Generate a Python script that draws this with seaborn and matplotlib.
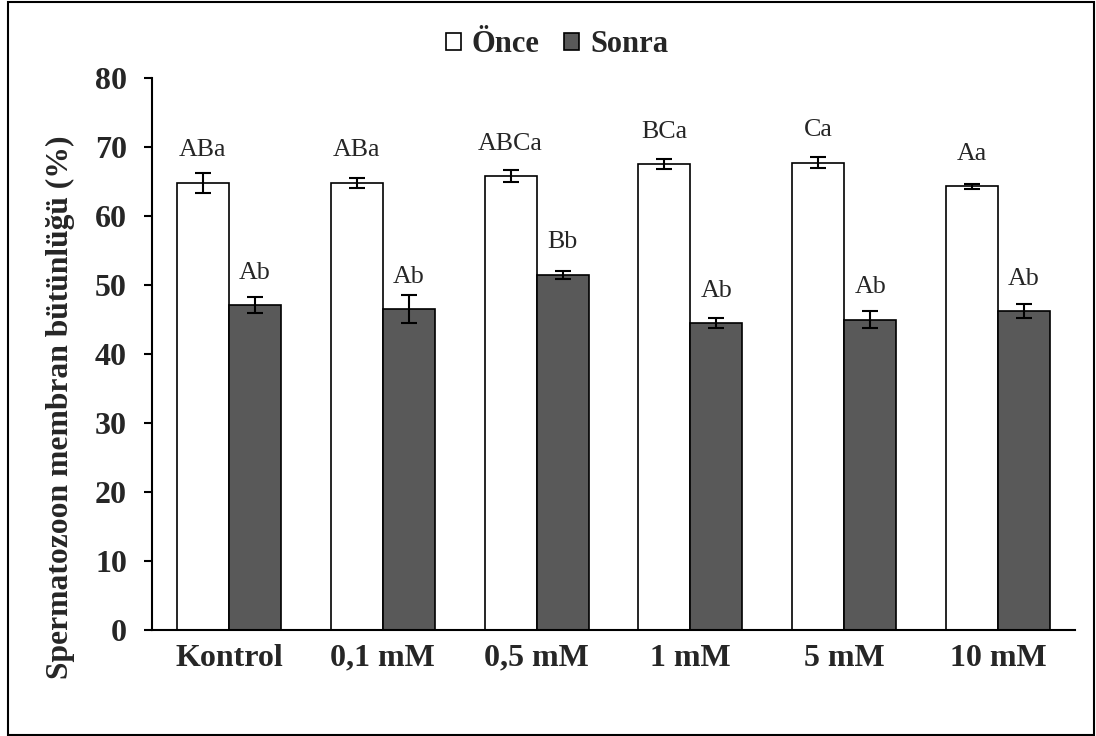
import numpy as np
import pandas as pd
import seaborn as sns
import matplotlib
matplotlib.use("Agg")
import matplotlib.pyplot as plt
from matplotlib.patches import Patch, Rectangle

# Membrane integrity (%) before and after, per treatment group
groups = ["Kontrol", "0,1 mM", "0,5 mM", "1 mM", "5 mM", "10 mM"]
periods = ["Önce", "Sonra"]
once_mean = [64.8, 64.8, 65.8, 67.5, 67.7, 64.3]
once_err = [1.45, 0.75, 0.8, 0.75, 0.8, 0.4]
sonra_mean = [47.1, 46.5, 51.5, 44.5, 45.0, 46.2]
sonra_err = [1.15, 2.0, 0.6, 0.7, 1.2, 1.05]
once_letters = ["ABa", "ABa", "ABCa", "BCa", "Ca", "Aa"]
sonra_letters = ["Ab", "Ab", "Bb", "Ab", "Ab", "Ab"]
y_ticks = [0, 10, 20, 30, 40, 50, 60, 70, 80]

sns.set_style("white")
plt.rcParams["font.family"] = ["Liberation Serif", "DejaVu Serif"]

df = pd.DataFrame({
    "Grup": groups * 2,
    "Dönem": [periods[0]] * len(groups) + [periods[1]] * len(groups),
    "Değer": once_mean + sonra_mean,
})

colors = {"Önce": "#ffffff", "Sonra": "#595959"}

fig = plt.figure(figsize=(10.96, 7.36), dpi=100)
ax = fig.add_axes([152 / 1096, 1 - 630 / 736, (1075 - 152) / 1096, (630 - 78) / 736])

sns.barplot(data=df, x="Grup", y="Değer", hue="Dönem", order=groups,
            hue_order=periods, palette=colors, errorbar=None, width=0.675,
            edgecolor="black", linewidth=1.2, legend=False, ax=ax)

means = [once_mean, sonra_mean]
errs = [once_err, sonra_err]
letters = [once_letters, sonra_letters]
for container, m, e, labs in zip(ax.containers, means, errs, letters):
    xs = [b.get_x() + b.get_width() / 2 for b in container]
    ax.errorbar(xs, m, yerr=e, fmt="none", ecolor="black", elinewidth=1.5,
                capsize=6, capthick=1.5, zorder=5)
    for x, v, t in zip(xs, m, labs):
        ax.annotate(t, (x, v), xytext=(0, 19), textcoords="offset points",
                    ha="center", va="baseline", fontsize=18.7)

ax.set_xlim(-0.5, len(groups) - 0.5)
ax.set_ylim(0, 80)
ax.set_yticks(y_ticks)
ax.set_yticklabels([str(t) for t in y_ticks], fontsize=23, fontweight="bold")
ax.set_xticks(range(len(groups)))
ax.set_xticklabels(groups, fontsize=23, fontweight="bold")
ax.set_xticks([-0.5, len(groups) - 0.5], minor=True)
ax.tick_params(axis="x", which="major", length=0, pad=10)
ax.tick_params(axis="x", which="minor", length=6, width=1.5, direction="out",
               color="black")
ax.tick_params(axis="y", length=6, width=1.5, direction="out", pad=12,
               color="black", left=True)
ax.set_xlabel("")
ax.set_ylabel("Spermatozoon membran bütünlüğü (%)", fontsize=22.8,
              fontweight="bold")
ax.yaxis.set_label_coords(-0.083, 0.404)

for side in ["top", "right"]:
    ax.spines[side].set_visible(False)
for side in ["left", "bottom"]:
    ax.spines[side].set_color("black")
    ax.spines[side].set_linewidth(1.5)

handles = [Patch(facecolor=colors[p], edgecolor="black", linewidth=1.2, label=p)
           for p in periods]
fig.legend(handles=handles, loc="center", bbox_to_anchor=(557 / 1096, 1 - 45 / 736),
           ncol=2, frameon=False, prop={"size": 22, "weight": "bold"},
           handlelength=0.5, handleheight=0.5, handletextpad=0.35,
           columnspacing=0.8)

fig.patches.append(Rectangle((8 / 1096, 1 / 736), (1094 - 8) / 1096, (734 - 1) / 736,
                             transform=fig.transFigure, fill=False,
                             edgecolor="black", linewidth=1.5))

fig.savefig("out.png", dpi=100)
